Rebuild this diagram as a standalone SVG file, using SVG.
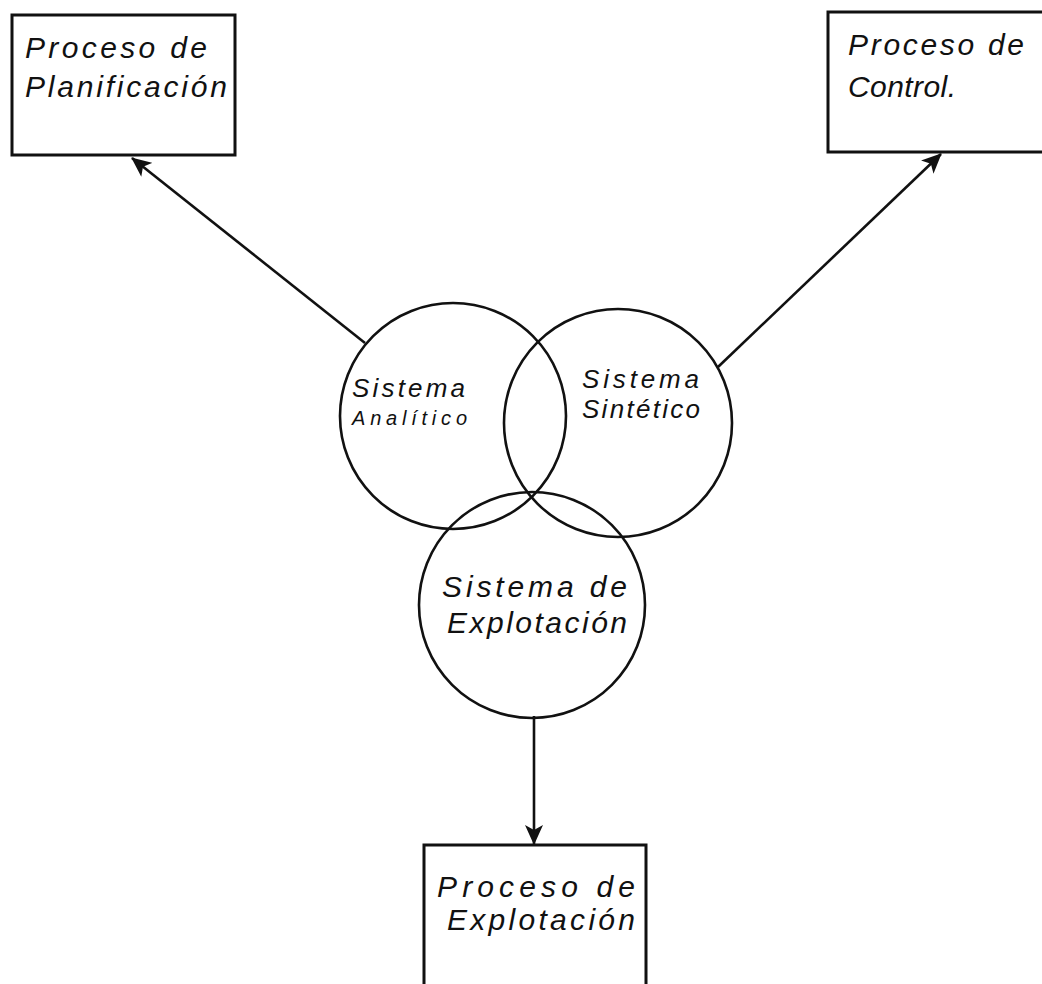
<svg xmlns="http://www.w3.org/2000/svg" width="1042" height="984" viewBox="0 0 1042 984">
  <style>
    .box { fill: none; stroke: #111; stroke-width: 3; }
    .ring { fill: none; stroke: #111; stroke-width: 2.6; }
    .link { fill: none; stroke: #111; stroke-width: 2.6; }
    .hand { font-family: "Liberation Sans", "DejaVu Sans", sans-serif; font-style: italic; fill: #111; }
    .big { font-size: 30px; }
    .mid { font-size: 26px; }
    .small { font-size: 20px; }
  </style>
  <defs>
    <marker id="head" viewBox="0 0 20 18" refX="19" refY="9" markerWidth="20" markerHeight="18" markerUnits="userSpaceOnUse" orient="auto">
      <path d="M0,0 L20,9 L0,18 L5,9 Z" fill="#111"/>
    </marker>
  </defs>

  <rect width="1042" height="984" fill="#fff"/>

  <!-- connectors -->
  <g id="connectors">
    <line class="link" x1="365" y1="343" x2="132" y2="158" marker-end="url(#head)"/>
    <line class="link" x1="718" y1="367" x2="941" y2="154" marker-end="url(#head)"/>
    <line class="link" x1="534" y1="716" x2="534" y2="844" marker-end="url(#head)"/>
  </g>

  <!-- process boxes -->
  <g id="proceso-planificacion">
    <rect class="box" x="12" y="15" width="223" height="140"/>
    <text class="hand big" x="25" y="58" textLength="182" lengthAdjust="spacing">Proceso de</text>
    <text class="hand big" x="25" y="97" textLength="202" lengthAdjust="spacing">Planificación</text>
  </g>

  <g id="proceso-control">
    <!-- runs off the right edge of the sheet -->
    <path class="box" d="M1045,12 H828 V152 H1045"/>
    <text class="hand big" x="848" y="55" textLength="176" lengthAdjust="spacing">Proceso de</text>
    <text class="hand big" x="848" y="97" textLength="108" lengthAdjust="spacing">Control.</text>
  </g>

  <g id="proceso-explotacion">
    <rect class="box" x="424" y="845" width="222" height="150"/>
    <text class="hand big" x="437" y="897" textLength="198" lengthAdjust="spacing">Proceso de</text>
    <text class="hand big" x="447" y="930" textLength="188" lengthAdjust="spacing">Explotación</text>
  </g>

  <!-- overlapping systems -->
  <g id="sistema-analitico">
    <circle class="ring" cx="453" cy="416" r="113"/>
    <text class="hand mid" x="352" y="397" textLength="113" lengthAdjust="spacing">Sistema</text>
    <text class="hand small" x="352" y="425" textLength="115" lengthAdjust="spacing">Analítico</text>
  </g>

  <g id="sistema-sintetico">
    <circle class="ring" cx="618" cy="423" r="114"/>
    <text class="hand mid" x="582" y="388" textLength="117" lengthAdjust="spacing">Sistema</text>
    <text class="hand mid" x="582" y="418" textLength="118" lengthAdjust="spacing">Sintético</text>
  </g>

  <g id="sistema-explotacion">
    <circle class="ring" cx="532" cy="605" r="113"/>
    <text class="hand big" x="442" y="597" textLength="185" lengthAdjust="spacing">Sistema de</text>
    <text class="hand big" x="447" y="633" textLength="180" lengthAdjust="spacing">Explotación</text>
  </g>
</svg>
